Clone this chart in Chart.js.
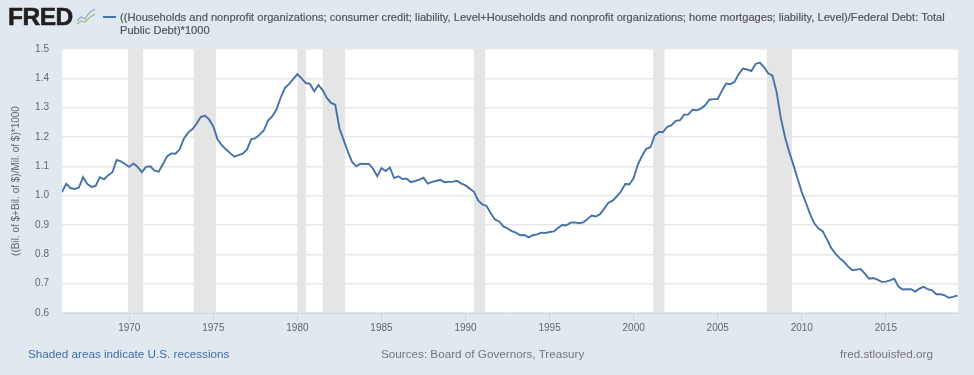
<!DOCTYPE html>
<html lang="en">
<head>
<meta charset="UTF-8">
<title>FRED graph</title>
<script src="https://cdn.jsdelivr.net/npm/chart.js"></script>
<style>
    html, body { margin: 0; padding: 0; background: #e1e9f0; }
    body { width: 974px; height: 375px; position: relative; overflow: hidden; font-family: "Liberation Sans", Arial, sans-serif; }
    canvas { position: absolute; left: 0; top: 0; }
    .txt { position: absolute; white-space: nowrap; }
    #logo { left: 8px; top: 3px; font-size: 24.5px; font-weight: bold; color: #231f20; letter-spacing: -0.5px; -webkit-text-stroke: 0.6px #231f20; }
    #icon { position: absolute; left: 76px; top: 8px; }
    #legendLine { position: absolute; left: 103px; top: 16px; width: 13px; height: 2px; background: #4572a7; }
    #title { left: 120px; top: 11px; font-size: 11.13px; line-height: 12.5px; color: #555; white-space: normal; width: 840px; -webkit-text-stroke: 0.2px #555; }
    .foot { top: 347px; font-size: 11.7px; }
</style>
</head>
<body>
<canvas id="myChart" width="974" height="375"></canvas>
<div id="logo" class="txt">FRED</div>
<svg id="icon" width="20" height="18" viewBox="0 0 20 18">
    <polyline points="1,13 5,9 9,11 13,5 19,1" fill="none" stroke="#8fa9c9" stroke-width="1.2"/>
    <polyline points="1,16 5,13 9,14 13,10 19,6" fill="none" stroke="#9dbb7d" stroke-width="1.2"/>
</svg>
<div id="legendLine"></div>
<div id="title" class="txt">((Households and nonprofit organizations; consumer credit; liability, Level+Households and nonprofit organizations; home mortgages; liability, Level)/Federal Debt: Total Public Debt)*1000</div>
<div class="txt foot" style="left:28px;color:#3e6ea8">Shaded areas indicate U.S. recessions</div>
<div class="txt foot" style="left:381px;color:#767676">Sources: Board of Governors, Treasury</div>
<div class="txt foot" style="left:840px;color:#767676">fred.stlouisfed.org</div>

<script>
    // quarterly values, first one is 1966 Q1
    const primeiroAno = 1966;
    const valores = [
        1.012, 1.04, 1.026, 1.023,
        1.027, 1.063, 1.04, 1.03,
        1.033, 1.063, 1.056, 1.07,
        1.08, 1.122, 1.117, 1.108,
        1.098, 1.11, 1.098, 1.08,
        1.098, 1.10, 1.085, 1.082,
        1.107, 1.134, 1.144, 1.143,
        1.158, 1.194, 1.215, 1.226,
        1.245, 1.268, 1.273, 1.26,
        1.236, 1.192, 1.172, 1.158,
        1.145, 1.133, 1.138, 1.143,
        1.157, 1.192, 1.196, 1.208,
        1.222, 1.256, 1.27, 1.293,
        1.333, 1.367, 1.38, 1.397,
        1.414, 1.40, 1.384, 1.381,
        1.356, 1.377, 1.36, 1.333,
        1.316, 1.31, 1.23, 1.19,
        1.15, 1.115, 1.10, 1.109,
        1.108, 1.108, 1.092, 1.066,
        1.094, 1.084, 1.096, 1.06,
        1.066, 1.057, 1.058, 1.046,
        1.05, 1.055, 1.061, 1.041,
        1.047, 1.05, 1.054, 1.046,
        1.047, 1.048, 1.051, 1.041,
        1.035, 1.024, 1.013, 0.984,
        0.97, 0.965, 0.94, 0.919,
        0.912, 0.895, 0.888, 0.879,
        0.874, 0.865, 0.866, 0.858,
        0.865, 0.868, 0.874, 0.873,
        0.876, 0.878, 0.89, 0.90,
        0.899, 0.908, 0.909, 0.906,
        0.909, 0.92, 0.932, 0.929,
        0.937, 0.956, 0.976, 0.983,
        0.998, 1.015, 1.04, 1.039,
        1.06, 1.106, 1.136, 1.16,
        1.165, 1.205, 1.217, 1.217,
        1.235, 1.24, 1.255, 1.257,
        1.276, 1.277, 1.293, 1.291,
        1.297, 1.308, 1.327, 1.329,
        1.329, 1.358, 1.382, 1.38,
        1.388, 1.415, 1.433, 1.43,
        1.425, 1.449, 1.454, 1.438,
        1.417, 1.41, 1.354, 1.265,
        1.20, 1.15, 1.105, 1.058,
        1.012, 0.975, 0.936, 0.905,
        0.888, 0.878, 0.85, 0.822,
        0.802, 0.787, 0.775, 0.759,
        0.746, 0.748, 0.75, 0.734,
        0.717, 0.719, 0.714, 0.706,
        0.707, 0.711, 0.717, 0.69,
        0.68, 0.681, 0.681, 0.673,
        0.683, 0.689, 0.681, 0.677,
        0.664, 0.664, 0.66, 0.652,
        0.655, 0.66
    ];
    const anosEixo = [1970, 1975, 1980, 1985, 1990, 1995, 2000, 2005, 2010, 2015];
    const ticksY = [0.6, 0.7, 0.8, 0.9, 1.0, 1.1, 1.2, 1.3, 1.4, 1.5];
    const recessaoInicio = [1969.92, 1973.83, 1980.0, 1981.5, 1990.5, 2001.17, 2007.92];
    const recessaoFim = [1970.83, 1975.17, 1980.5, 1982.83, 1991.17, 2001.83, 2009.42];

    const pontos = valores.map((v, i) => ({ x: primeiroAno + i / 4, y: v }));
    const fonte = '"Liberation Sans", Arial, sans-serif';

    // recession bands, drawn under the line
    const faixas = {
        id: 'faixas',
        beforeDatasetsDraw(chart) {
            const { ctx, chartArea, scales } = chart;
            ctx.save();
            ctx.fillStyle = '#e5e5e5';
            for (let i = 0; i < recessaoInicio.length; i++) {
                const x0 = scales.x.getPixelForValue(recessaoInicio[i]);
                const x1 = scales.x.getPixelForValue(recessaoFim[i]);
                ctx.fillRect(x0, chartArea.top, x1 - x0, chartArea.bottom - chartArea.top);
            }
            ctx.restore();
        }
    };

    // white plot area
    const fundo = {
        id: 'fundo',
        beforeDraw(chart) {
            const { ctx, chartArea } = chart;
            ctx.save();
            ctx.fillStyle = '#ffffff';
            ctx.fillRect(chartArea.left, chartArea.top, chartArea.right - chartArea.left, chartArea.bottom - chartArea.top);
            ctx.restore();
        }
    };

    new Chart(document.getElementById('myChart'), {
        type: 'line',
        data: {
            datasets: [{
                data: pontos,
                borderColor: '#4572a7',
                borderWidth: 1.9,
                pointRadius: 0,
                tension: 0,
                fill: false
            }]
        },
        options: {
            responsive: false,
            animation: false,
            layout: { padding: { top: 49, right: 16, bottom: 0, left: 0 } },
            plugins: { legend: { display: false }, tooltip: { enabled: false } },
            scales: {
                x: {
                    type: 'linear',
                    min: 1966,
                    max: 2019.29,
                    afterFit(box) { box.height = 62; },
                    afterBuildTicks(axis) { axis.ticks = anosEixo.map(a => ({ value: a })); },
                    grid: { drawOnChartArea: false, color: '#ccd6eb', tickLength: 8 },
                    border: { color: '#ccd6eb', width: 1 },
                    ticks: {
                        autoSkip: false,
                        maxRotation: 0,
                        padding: 1,
                        color: '#666666',
                        font: { family: fonte, size: 10 },
                        callback: v => String(v)
                    }
                },
                y: {
                    min: 0.6,
                    max: 1.5,
                    afterFit(box) { box.width = 62; },
                    afterBuildTicks(axis) { axis.ticks = ticksY.map(v => ({ value: v })); },
                    grid: { color: '#e8e8e8', lineWidth: 1.5, drawTicks: false },
                    border: { display: false },
                    title: {
                        display: true,
                        text: '((Bil. of $+Bil. of $)/Mil. of $)*1000',
                        color: '#666666',
                        padding: { top: 10, bottom: 0 },
                        font: { family: fonte, size: 10 }
                    },
                    ticks: {
                        padding: 13,
                        color: '#666666',
                        font: { family: fonte, size: 10 },
                        callback: v => v.toFixed(1)
                    }
                }
            }
        },
        plugins: [fundo, faixas]
    });
</script>
</body>
</html>
